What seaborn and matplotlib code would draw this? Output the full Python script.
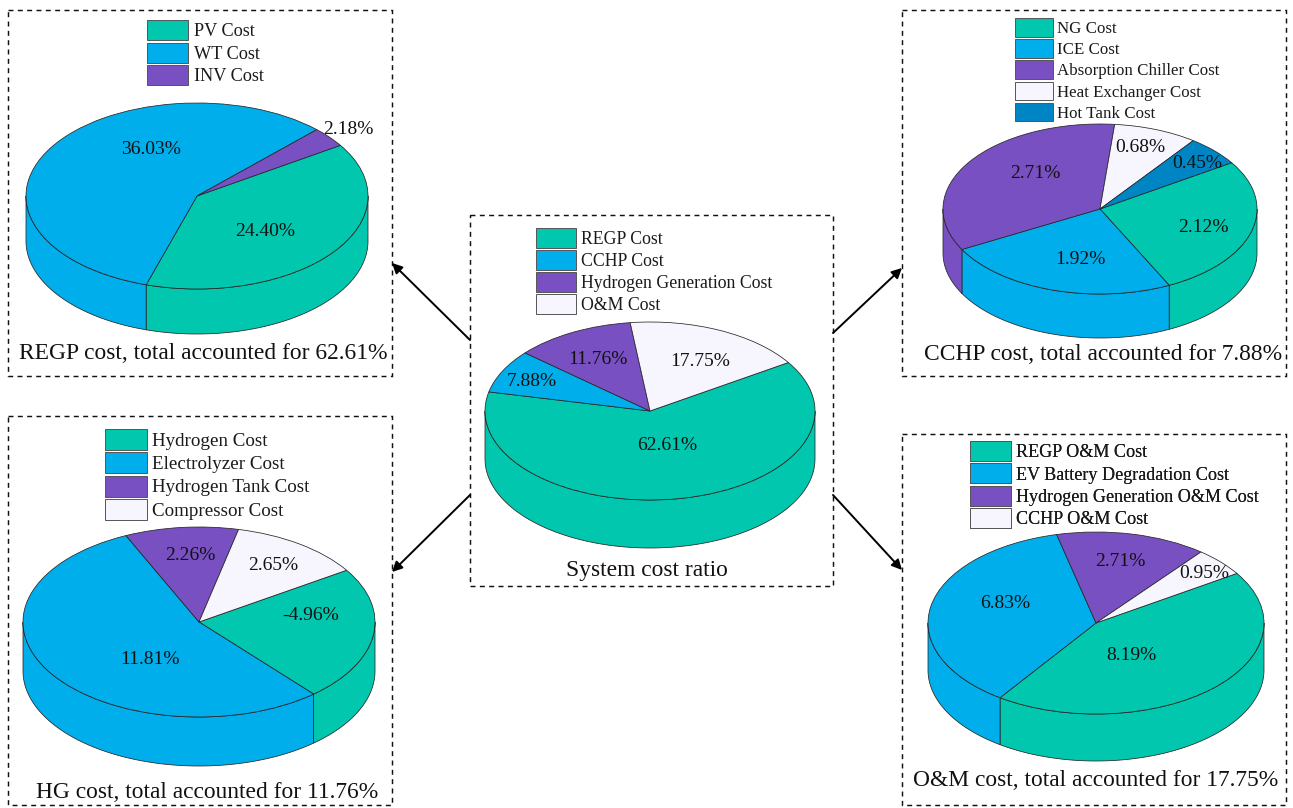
import numpy as np
import matplotlib
matplotlib.use("Agg")
import matplotlib.pyplot as plt
from matplotlib.patches import Patch, Rectangle
import seaborn as sns

# Cost shares in percent of total system cost
system_names = ["REGP Cost", "CCHP Cost", "Hydrogen Generation Cost", "O&M Cost"]
system_values = [62.61, 7.88, 11.76, 17.75]

regp_names = ["PV Cost", "WT Cost", "INV Cost"]
regp_values = [24.40, 36.03, 2.18]

cchp_names = ["NG Cost", "ICE Cost", "Absorption Chiller Cost", "Heat Exchanger Cost", "Hot Tank Cost"]
cchp_values = [2.12, 1.92, 2.71, 0.68, 0.45]

hg_names = ["Hydrogen Cost", "Electrolyzer Cost", "Hydrogen Tank Cost", "Compressor Cost"]
hg_values = [-4.96, 11.81, 2.26, 2.65]

om_names = ["REGP O&M Cost", "EV Battery Degradation Cost", "Hydrogen Generation O&M Cost", "CCHP O&M Cost"]
om_values = [8.19, 6.83, 2.71, 0.95]

WIDTH, HEIGHT = 1293, 808
DPI = 100
START_ANGLE = 33
EDGE = "#262626"

sns.set_theme(style="white")
plt.rcParams["font.family"] = ["Liberation Serif", "DejaVu Serif"]
colors = sns.color_palette(["#00C7AE", "#00AEEB", "#7850C2", "#F7F5FE", "#0085C4"])

fig = plt.figure(figsize=(WIDTH / DPI, HEIGHT / DPI), dpi=DPI, facecolor="white")

# Transparent pixel-space layer for frames, arrows, legends and labels
canvas = fig.add_axes([0, 0, 1, 1], zorder=5)
canvas.set_xlim(0, WIDTH)
canvas.set_ylim(HEIGHT, 0)
canvas.axis("off")


def draw_pie(values, names, frame, ellipse, depth, legend_spec, caption, label_xy):
    x0, y0, x1, y1 = frame
    cx, cy, rx, ry = ellipse

    # Axes spanning the frame, scaled so the unit pie lands on the ellipse
    ax = fig.add_axes([x0 / WIDTH, 1 - y1 / HEIGHT, (x1 - x0) / WIDTH, (y1 - y0) / HEIGHT], zorder=2)
    sizes = np.abs(values)
    palette = colors[: len(sizes)]
    ax.pie(sizes, colors=palette, startangle=START_ANGLE, counterclock=False, radius=1,
           wedgeprops=dict(edgecolor=EDGE, linewidth=0.55))
    ax.set_aspect("auto")
    ax.set_xlim((x0 - cx) / rx, (x1 - cx) / rx)
    ax.set_ylim((cy - y1) / ry, (cy - y0) / ry)
    ax.patch.set_visible(False)

    # Extruded rim: only the part of each slice on the lower half of the ellipse
    drop = depth / ry
    spans = np.cumsum(sizes) / sizes.sum() * 360
    highs = START_ANGLE - np.r_[0, spans[:-1]]
    lows = START_ANGLE - spans
    for hi, lo, colour in zip(highs, lows, palette):
        for k in (-2, -1, 0, 1):
            a = max(lo, 180 + 360 * k)
            b = min(hi, 360 + 360 * k)
            if b <= a:
                continue
            t = np.radians(np.linspace(a, b, 80))
            xs = np.r_[np.cos(t), np.cos(t)[::-1]]
            ys = np.r_[np.sin(t), np.sin(t)[::-1] - drop]
            ax.fill(xs, ys, facecolor=colour, edgecolor=EDGE, linewidth=0.55, zorder=0)

    # Dashed frame
    canvas.add_patch(Rectangle((x0, y0), x1 - x0, y1 - y0, fill=False, edgecolor="#111111",
                               linewidth=1.05, linestyle=(0, (3.4, 3))))

    # Legend with tall, nearly touching swatches. Matplotlib draws a handle at
    # 0.65 * handleheight + 0.245 font sizes, so solve handleheight for the swatch.
    lx, ly, font_px, patch_w, patch_h, step, gap = legend_spec
    handles = [Patch(facecolor=c, edgecolor="#555555", linewidth=0.7, label=n)
               for c, n in zip(palette, names)]
    fs = font_px * 72 / DPI
    handle_h = (patch_h / font_px - 0.245) / 0.65
    legend = canvas.legend(handles=handles, loc="upper left", bbox_to_anchor=(lx, ly),
                           bbox_transform=canvas.transData, frameon=False, fontsize=fs,
                           borderpad=0, borderaxespad=0, handlelength=patch_w / font_px,
                           handleheight=handle_h, labelspacing=(step - patch_h) / font_px,
                           handletextpad=gap / font_px, labelcolor="#1a1a1a")
    canvas.add_artist(legend)

    # Caption and slice labels
    canvas.text(caption[1], caption[2] + 2.5, caption[0], fontsize=16.9, ha="center", va="center", color="#111111")
    for v, (tx, ty) in zip(values, label_xy):
        canvas.text(tx, ty + 2, f"{v:.2f}%", fontsize=14, ha="center", va="center", color="#111111")


draw_pie(system_values, system_names, (470, 215, 833, 586), (650, 411, 165, 89), 48,
         (536, 228, 17.7, 40, 19.5, 21.9, 5), ("System cost ratio", 647, 568),
         [(667, 443), (532, 380), (598, 357), (700, 359)])

draw_pie(regp_values, regp_names, (8, 10, 392, 376), (197, 196, 171, 93), 45,
         (147, 20, 18.3, 41, 20, 22.5, 6), ("REGP cost, total accounted for 62.61%", 203.5, 351),
         [(265, 229), (151, 148), (348, 127)])

draw_pie(cchp_values, cchp_names, (902, 10, 1286, 376), (1100, 209, 157, 85), 44,
         (1015, 18, 16.9, 38, 18.5, 20.8, 4), ("CCHP cost, total accounted for 7.88%", 1103, 352),
         [(1203, 225), (1080, 258), (1035, 171), (1140, 146), (1197, 162)])

draw_pie(hg_values, hg_names, (8, 416, 392, 805), (199, 622, 176, 95), 49,
         (105, 429, 19, 42, 21, 23.3, 5), ("HG cost, total accounted for 11.76%", 207, 790),
         [(311, 614), (150, 657), (190, 554), (273, 563)])

draw_pie(om_values, om_names, (902, 434, 1286, 805), (1096, 623, 168, 91), 47,
         (970, 441, 18.1, 41, 20, 22.4, 5), ("O&M cost, total accounted for 17.75%", 1096, 778),
         [(1131, 653), (1005, 602), (1120, 559), (1204, 571)])

# Arrows from the central pie to each breakdown
for start, end in [((470, 340), (392, 263)), ((833, 333), (902, 268)),
                   ((470, 495), (392, 572)), ((833, 495), (902, 570))]:
    canvas.annotate("", xy=end, xytext=start,
                    arrowprops=dict(arrowstyle="-|>", color="black", lw=1.4, mutation_scale=15,
                                    shrinkA=0, shrinkB=0))

fig.savefig("out.png", dpi=DPI, facecolor="white")
